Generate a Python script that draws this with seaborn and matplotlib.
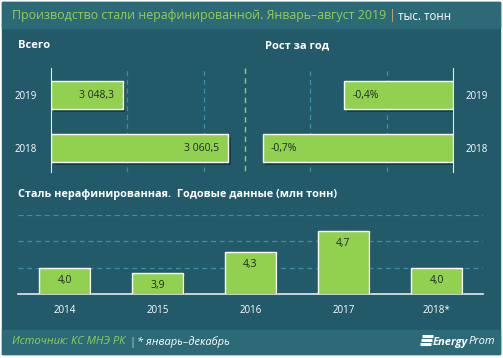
import matplotlib
matplotlib.use('Agg')
import matplotlib.pyplot as plt
import matplotlib.patheffects as pe
from matplotlib.patches import Rectangle
import seaborn as sns

# ── Data ───────────────────────────────────────────────────
ytd_years = ['2019', '2018']
ytd_values = [3048.3, 3060.5]            # тыс. тонн, январь–август
ytd_labels = ['3 048,3', '3 060,5']
growth_values = [-0.4, -0.7]            # % к прошлому году
growth_labels = ['-0,4%', '-0,7%']
annual_years = ['2014', '2015', '2016', '2017', '2018*']
annual_values = [4.0, 3.9, 4.3, 4.7, 4.0]   # млн тонн
annual_labels = ['4,0', '3,9', '4,3', '4,7', '4,0']

# ── Style ──────────────────────────────────────────────────
sns.set_style('white')
plt.rcParams['font.family'] = ['Open Sans', 'DejaVu Sans']

BG = '#235a69'
BAND = '#2d6a78'
GREEN = '#92d050'
GRID = '#3b8ea6'
TXT = '#1e2a2a'

W, H = 503, 358
fig = plt.figure(figsize=(W / 100, H / 100), dpi=100, facecolor='white')


def rect(x0, y0, x1, y1):
    return [x0 / W, 1 - y1 / H, (x1 - x0) / W, (y1 - y0) / H]


def ftext(x, y, s, **kw):
    kw.setdefault('va', 'center')
    return fig.text(x / W, 1 - y / H, s, **kw)


# panel background + header / footer bands
fig.patches.append(Rectangle((2 / W, 1 - 354 / H), 498 / W, 352 / H,
                             transform=fig.transFigure, color=BG, zorder=-3))
fig.patches.append(Rectangle((2 / W, 1 - 28 / H), 498 / W, 26 / H,
                             transform=fig.transFigure, color=BAND, zorder=-2))
fig.patches.append(Rectangle((2 / W, 1 - 354 / H), 498 / W, 24 / H,
                             transform=fig.transFigure, color=BAND, zorder=-2))

shadow = [pe.withSimplePatchShadow(offset=(2, -2), shadow_rgbFace='black', alpha=0.35)]


def clean(ax):
    ax.set_facecolor('none')
    for s in ax.spines.values():
        s.set_visible(False)
    ax.set_xlabel('')
    ax.set_ylabel('')


# ── Left: Всего (axis does not start at zero, as in the original) ──
ax1 = fig.add_axes(rect(51, 68, 245, 172))
sns.barplot(x=ytd_values, y=ytd_years, orient='h', color=GREEN, width=0.53,
            saturation=1, ax=ax1, zorder=3)
clean(ax1)
ax1.set_xlim(3040, 3062.5)
for bar in ax1.patches:          # bars start at the axis edge
    bar.set_x(3040)
    bar.set_width(bar.get_width() - 3040)
ax1.set_ylim(1.45, -0.51)
ax1.set_xticks([3048.8, 3057.8])
ax1.set_xticklabels([])
ax1.tick_params(axis='x', length=0)
ax1.grid(axis='x', color=GRID, linestyle=(0, (4, 3)), linewidth=0.9)
ax1.spines['left'].set_visible(True)
ax1.spines['left'].set_color('#e8e8e8')
ax1.tick_params(axis='y', length=0, pad=10, labelcolor='white', labelsize=7)
for bar, lab in zip(ax1.patches, ytd_labels):
    bar.set_path_effects(shadow)
    ax1.annotate(lab, (bar.get_x() + bar.get_width(), bar.get_y() + bar.get_height() / 2),
                 xytext=(-9, 0), textcoords='offset pixels', ha='right', va='center',
                 fontsize=7.5, color=TXT, zorder=5)

# ── Right: Рост за год ─────────────────────────────────────
ax2 = fig.add_axes(rect(244, 68, 453, 172))
sns.barplot(x=growth_values, y=ytd_years, orient='h', color=GREEN, width=0.53,
            saturation=1, ax=ax2, zorder=3)
clean(ax2)
ax2.set_xlim(-0.768, 0)
ax2.set_ylim(1.45, -0.51)
ax2.set_xticks([-0.526, -0.243])
ax2.set_xticklabels([])
ax2.tick_params(axis='x', length=0)
ax2.grid(axis='x', color=GRID, linestyle=(0, (4, 3)), linewidth=0.9)
ax2.spines['right'].set_visible(True)
ax2.spines['right'].set_color('#e8e8e8')
ax2.yaxis.tick_right()
ax2.tick_params(axis='y', length=0, pad=9, labelcolor='white', labelsize=7)
for bar, lab in zip(ax2.patches, growth_labels):
    bar.set_path_effects(shadow)
    ax2.annotate(lab, (bar.get_x() + bar.get_width(), bar.get_y() + bar.get_height() / 2),
                 xytext=(8, 0), textcoords='offset pixels', ha='left', va='center',
                 fontsize=7.5, color=TXT, zorder=5)

# green dashed divider
fig.lines.append(plt.Line2D([245 / W, 245 / W], [1 - 68 / H, 1 - 175 / H],
                            transform=fig.transFigure, color=GREEN,
                            linestyle=(0, (4, 3)), linewidth=1))

# ── Bottom: annual data ────────────────────────────────────
ax3 = fig.add_axes(rect(18, 215, 483, 294))
sns.barplot(x=annual_years, y=annual_values, color=GREEN, width=0.54,
            saturation=1, ax=ax3, zorder=3)
clean(ax3)
ax3.set_ylim(3.5, 5.0)
ax3.set_xlim(-0.5, 4.5)
ax3.set_yticks([4.0, 4.5, 5.0])
ax3.set_yticklabels([])
ax3.tick_params(axis='y', length=0)
ax3.grid(axis='y', color=GRID, linestyle=(0, (4, 3)), linewidth=0.9)
ax3.spines['bottom'].set_visible(True)
ax3.spines['bottom'].set_color('#e8e8e8')
ax3.spines['bottom'].set_linewidth(1.2)
ax3.tick_params(axis='x', length=0, pad=8, labelcolor='white', labelsize=7)
for bar, lab in zip(ax3.patches, annual_labels):
    bar.set_path_effects(shadow)
    ax3.annotate(lab, (bar.get_x() + bar.get_width() / 2, bar.get_height()),
                 xytext=(0, -13), textcoords='offset pixels', ha='center', va='center',
                 fontsize=7.5, color=TXT, zorder=5)

# ── Texts ──────────────────────────────────────────────────
t = ftext(12, 16, 'Производство стали нерафинированной. Январь–август 2019',
          color=GREEN, fontsize=8.9)
fig.canvas.draw()
x1 = t.get_window_extent().x1
ftext(x1 + 3, 16, '|', color='#e0a070', fontsize=8.9)
ftext(x1 + 12, 16, 'тыс. тонн', color='white', fontsize=8.3)
ftext(18, 46, 'Всего', color='white', fontsize=8, fontweight='bold')
ftext(265, 46, 'Рост за год', color='white', fontsize=8, fontweight='bold')
ftext(18, 194, 'Сталь нерафинированная.  Годовые данные (млн тонн)',
      color='white', fontsize=7.8, fontweight='bold')
ftext(12, 342, 'Источник: КС МНЭ РК', color=GREEN, fontsize=8, style='italic')
ftext(129, 342, '|', color='#cfcfcf', fontsize=8)
ftext(137, 342, '* январь–декабрь', color='white', fontsize=8, style='italic')

# EnergyProm logo
for i in range(3):
    y = 336 + i * 4
    fig.lines.append(plt.Line2D([(420 + (2 - i)) / W, (431 + (2 - i)) / W],
                                [1 - y / H, 1 - y / H], transform=fig.transFigure,
                                color='white', linewidth=2.2, solid_capstyle='butt'))
t = ftext(433, 342, 'Energy', color='white', fontsize=8, fontweight='bold', style='italic')
fig.canvas.draw()
bb = t.get_window_extent()
fig.text(bb.x1 / fig.bbox.width, 1 - 342 / H, 'Prom', color='white', fontsize=8,
         style='italic', va='center')

fig.savefig('out.png', dpi=100, facecolor='white')
